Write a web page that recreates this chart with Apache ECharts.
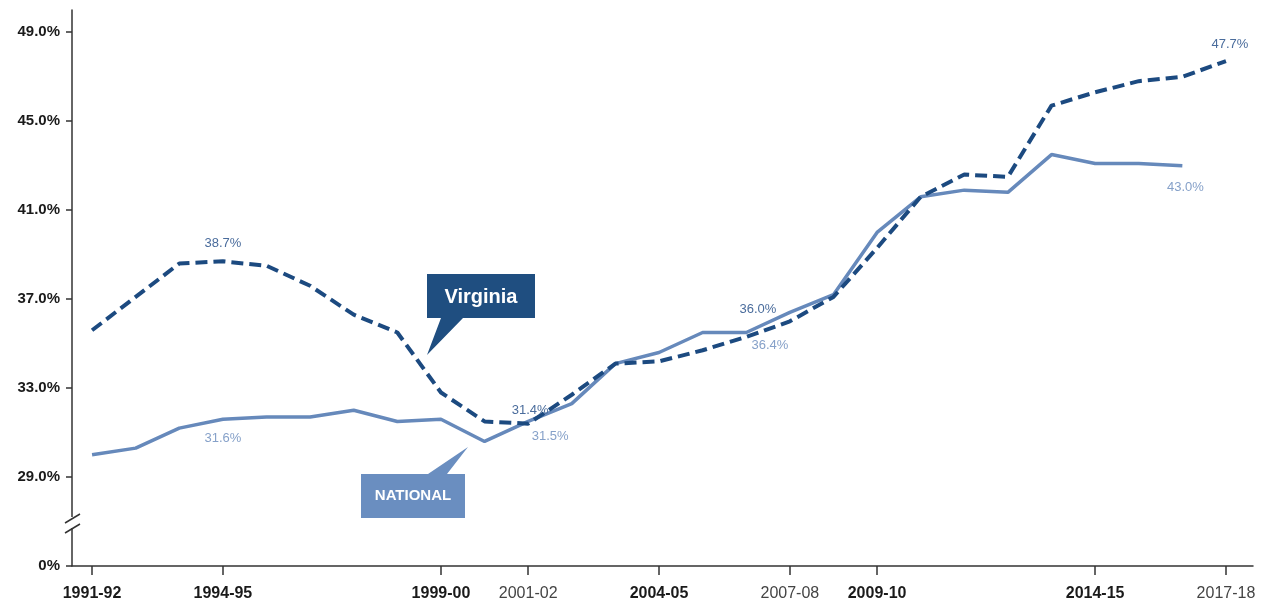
<!DOCTYPE html>
<html>
<head>
<meta charset="utf-8">
<script src="https://cdn.jsdelivr.net/npm/echarts@6/dist/echarts.min.js"></script>
<style>
html,body{margin:0;padding:0;background:#fff;}
#chart{width:1265px;height:606px;}
</style>
</head>
<body>
<div id="chart"></div>
<script>
// ---- data ----
const years = ['1991-92','1992-93','1993-94','1994-95','1995-96','1996-97','1997-98','1998-99','1999-00','2000-01',
  '2001-02','2002-03','2003-04','2004-05','2005-06','2006-07','2007-08','2008-09','2009-10','2010-11',
  '2011-12','2012-13','2013-14','2014-15','2015-16','2016-17','2017-18'];
const virginia = [35.6,37.1,38.6,38.7,38.5,37.6,36.3,35.5,32.8,31.5,
  31.4,32.7,34.1,34.2,34.7,35.3,36.0,37.1,39.3,41.6,
  42.6,42.5,45.7,46.3,46.8,47.0,47.7];
const national = [30.0,30.3,31.2,31.6,31.7,31.7,32.0,31.5,31.6,30.6,
  31.5,32.3,34.1,34.6,35.5,35.5,36.4,37.2,40.0,41.6,
  41.9,41.8,43.5,43.1,43.1,43.0,null];
const xTickLabels = ['1991-92','1994-95','1999-00','2001-02','2004-05','2007-08','2009-10','2014-15','2017-18'];
const xBoldLabels = ['1991-92','1994-95','1999-00','2004-05','2009-10','2014-15'];
const yTickValues = [25,29,33,37,41,45,49];
const yTickLabels = ['0%','29.0%','33.0%','37.0%','41.0%','45.0%','49.0%'];
const virginiaLabelIdx = [3,10,16,26];
const nationalLabelIdx = [3,10,16,25];

// ---- styles ----
const vLabelStyle = {
  3: {position:'top', offset:[0,-6]},
  10:{position:'top', offset:[2,-2]},
  16:{position:'top', offset:[-32,0]},
  26:{position:'top', offset:[4,-5]}
};
const nLabelStyle = {
  3: {position:'bottom', offset:[0,8]},
  10:{position:'bottom', offset:[22,3]},
  16:{position:'bottom', offset:[-20,21]},
  25:{position:'bottom', offset:[3,10]}
};
const VCOL = '#1c4a80';
const NCOL = '#6689bb';
const FONT = 'Liberation Sans, Arial, sans-serif';

function buildData(vals, labelIdx, styleMap, color){
  return vals.map((v,i)=>{
    if (v === null) return [i, null];
    const item = {value:[i, v]};
    if (labelIdx.indexOf(i) >= 0) {
      item.label = Object.assign({show:true, color:color, fontSize:13, fontFamily:FONT,
        formatter:(p)=>p.value[1].toFixed(1)+'%'}, styleMap[i]);
    }
    return item;
  });
}
const xTickIdx = xTickLabels.map(l=>years.indexOf(l));

const chart = echarts.init(document.getElementById('chart'), null, {renderer:'canvas'});
chart.setOption({
  animation:false,
  backgroundColor:'#fff',
  grid:{left:72, right:12, top:10, bottom:40, containLabel:false, outerBoundsMode:'none'},
  xAxis:{
    type:'value', min:-0.46, max:26.62,
    splitLine:{show:false},
    axisLine:{show:true, onZero:false, lineStyle:{color:'#333', width:1.5}},
    axisTick:{show:true, customValues:xTickIdx, length:9, lineStyle:{color:'#333', width:1.5}},
    axisLabel:{
      customValues:xTickIdx, margin:20,
      fontFamily:FONT, fontSize:16,
      formatter:(v)=>{
        const l = years[Math.round(v)];
        return xBoldLabels.indexOf(l) >= 0 ? '{b|'+l+'}' : '{n|'+l+'}';
      },
      rich:{
        b:{fontWeight:'bold', color:'#1a1a1a', fontSize:16, fontFamily:FONT},
        n:{fontWeight:'normal', color:'#444', fontSize:16, fontFamily:FONT}
      }
    }
  },
  yAxis:{
    type:'value', min:25, max:50,
    splitLine:{show:false},
    axisLine:{show:true, onZero:false, lineStyle:{color:'#333', width:1.5}},
    axisTick:{show:true, customValues:yTickValues, length:6, lineStyle:{color:'#333', width:1.5}},
    axisLabel:{
      customValues:yTickValues, margin:12,
      color:'#1a1a1a', fontWeight:'bold', fontSize:15, fontFamily:FONT,
      formatter:(v)=>{ const k = yTickValues.indexOf(v); return k>=0 ? yTickLabels[k] : ''; }
    }
  },
  series:[
    {
      name:'NATIONAL', type:'line', silent:true,
      data:buildData(national, nationalLabelIdx, nLabelStyle, '#86a1c9'),
      showSymbol:true, showAllSymbol:true, symbol:'circle', symbolSize:0.01,
      itemStyle:{color:NCOL},
      lineStyle:{color:NCOL, width:3.5},
      z:2
    },
    {
      name:'Virginia', type:'line', silent:true,
      data:buildData(virginia, virginiaLabelIdx, vLabelStyle, '#4a6c9c'),
      showSymbol:true, showAllSymbol:true, symbol:'circle', symbolSize:0.01,
      itemStyle:{color:VCOL},
      lineStyle:{color:VCOL, width:4, type:[12,6], cap:'butt'},
      z:3
    }
  ],
  graphic:[
    // axis break
    {type:'rect', shape:{x:66, y:517, width:12, height:11}, style:{fill:'#fff'}, z:100},
    {type:'line', shape:{x1:65, y1:523, x2:80, y2:514}, style:{stroke:'#333', lineWidth:1.5}, z:101},
    {type:'line', shape:{x1:65, y1:533, x2:80, y2:524}, style:{stroke:'#333', lineWidth:1.5}, z:101},
    // Virginia callout
    {type:'polygon', shape:{points:[[427,274],[535,274],[535,318],[463,318],[427,355],[441,318],[427,318]]},
      style:{fill:'#1f4e80'}, z:50},
    {type:'text', x:481, y:297, style:{text:'Virginia', fill:'#fff', font:'bold 20px '+FONT,
      align:'center', verticalAlign:'middle'}, z:51},
    // National callout
    {type:'polygon', shape:{points:[[361,474],[428,474],[468,447],[447,474],[465,474],[465,518],[361,518]]},
      style:{fill:'#6a8ec0'}, z:50},
    {type:'text', x:413, y:496, style:{text:'NATIONAL', fill:'#fff', font:'bold 15px '+FONT,
      align:'center', verticalAlign:'middle'}, z:51}
  ]
});
</script>
</body>
</html>
